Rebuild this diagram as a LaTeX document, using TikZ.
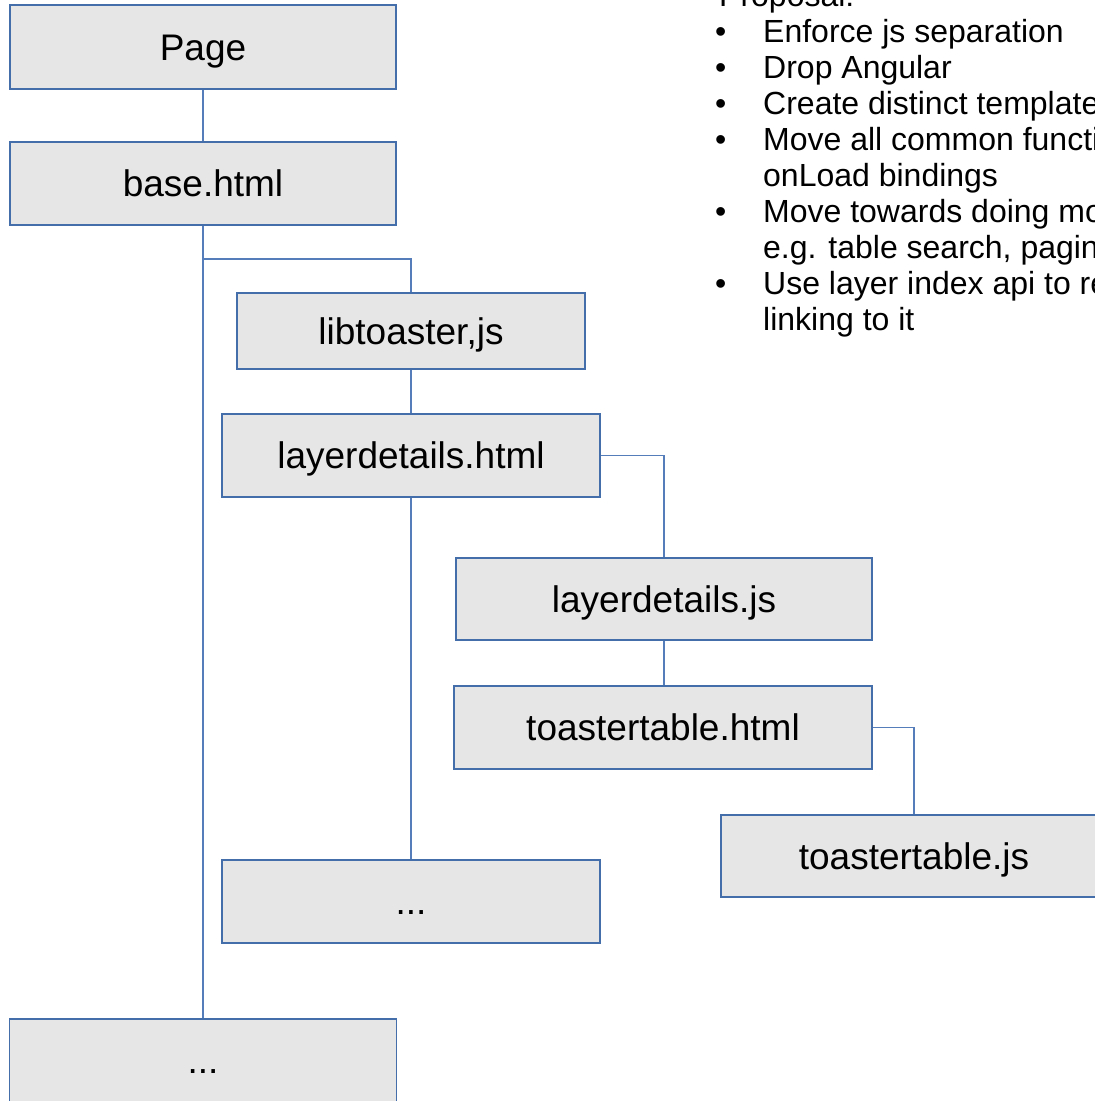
\documentclass[tikz,border=0pt]{standalone}
\usepackage{fontspec}
\setmainfont{Liberation Sans}
\definecolor{boxfill}{RGB}{230,230,230}
\definecolor{boxline}{RGB}{68,110,170}
\definecolor{conline}{RGB}{85,125,185}
\begin{document}
\begin{tikzpicture}[x=1pt,y=-1pt,
  filebox/.style={draw=boxline,line width=1.1pt,fill=boxfill,inner sep=0pt,
    font=\fontsize{37}{44}\selectfont,text height=26.5pt,text depth=0pt},
  conn/.style={draw=conline,line width=1.1pt},
  bul/.style={anchor=base west,inner sep=0pt,font=\fontsize{32}{36}\selectfont}]
\useasboundingbox (0,0) rectangle (1095,1101);
\clip (0,0) rectangle (1095,1101);
% boxes
\node[filebox,minimum width=386,minimum height=84] (page) at (203,47) {Page};
\node[filebox,minimum width=386,minimum height=83] (base) at (203,183.5) {base.html};
\node[filebox,minimum width=348,minimum height=76] (lib) at (411,331) {libtoaster,js};
\node[filebox,minimum width=378,minimum height=83] (ld) at (411,455.5) {layerdetails.html};
\node[filebox,minimum width=378,minimum height=83] (dotsa) at (411,901.5) {...};
\node[filebox,minimum width=416,minimum height=82] (ldjs) at (664,599) {layerdetails.js};
\node[filebox,minimum width=418,minimum height=83] (tt) at (663,727.5) {toastertable.html};
\node[filebox,minimum width=386,minimum height=82] (tjs) at (914,856) {toastertable.js};
\node[filebox,minimum width=387,minimum height=83] (dotsb) at (203,1060.5) {...};
% connectors
\coordinate (junc) at (203,259);
\draw[conn] (page.south) -- (base.south |- base.north);
\draw[conn] (base.south) -- (dotsb.north);
\draw[conn] (junc) -| (lib.north);
\draw[conn] (lib.south) -- (ld.north);
\draw[conn] (ld.south) -- (dotsa.north);
\draw[conn] (ld.east) -| (ldjs.north);
\draw[conn] (ldjs.south) -- (ldjs.south |- tt.north);
\draw[conn] (tt.east) -| (tjs.north);
% proposal text
\node[bul] (prop) at (719,6) {Proposal:};
\node[bul] (b1) at (715,42) {•};
\node[bul] (t1) at (763,42) {Enforce js separation};
\node[bul] (b2) at (715,78) {•};
\node[bul] (t2) at (763,78) {Drop Angular};
\node[bul] (b3) at (715,114) {•};
\node[bul] (t3) at (763,114) {Create distinct templates};
\node[bul] (b4) at (715,150) {•};
\node[bul] (t4) at (763,150) {Move all common functions};
\node[bul] (t4b) at (763,186) {onLoad bindings};
\node[bul] (b5) at (715,222) {•};
\node[bul] (t5) at (763,222) {Move towards doing more};
\node[bul] (t5b) at (763,258) {e.g. table search, pagination};
\node[bul] (b6) at (715,294) {•};
\node[bul] (t6) at (763,294) {Use layer index api to read};
\node[bul] (t6b) at (763,330) {linking to it};
\end{tikzpicture}
\end{document}
